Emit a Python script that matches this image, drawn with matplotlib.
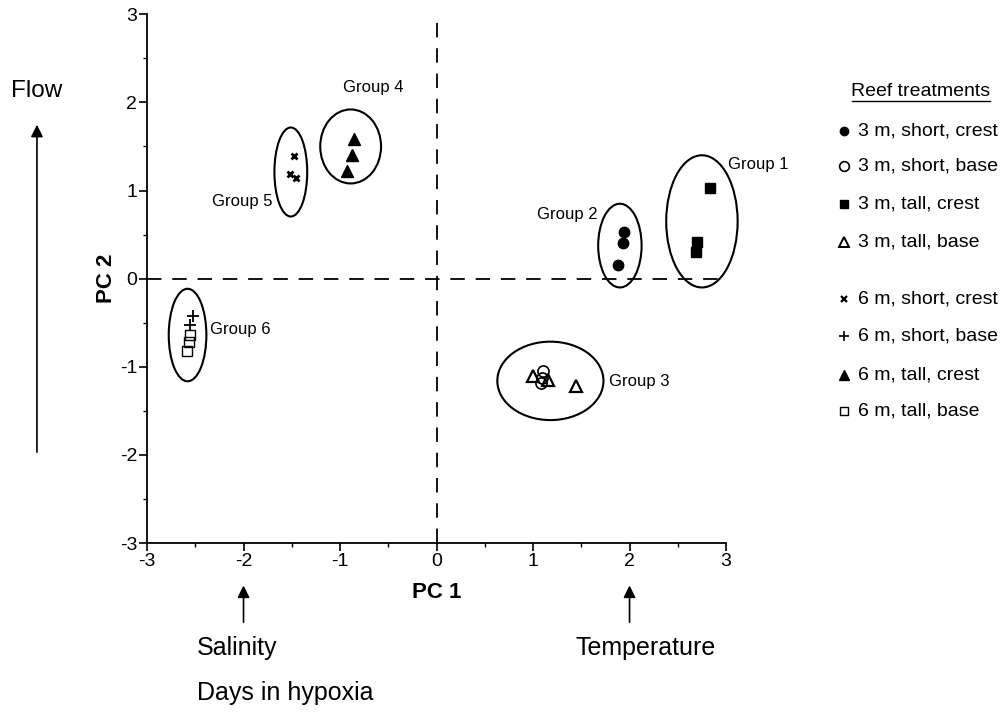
import numpy as np
import matplotlib.pyplot as plt
from matplotlib.patches import Ellipse

plt.rcParams['font.family'] = ['Liberation Sans', 'DejaVu Sans']
plt.rcParams['axes.unicode_minus'] = False

# PCA scores per reef treatment
x_3m_short_crest = [1.94, 1.93, 1.88]
y_3m_short_crest = [0.53, 0.41, 0.16]
x_3m_short_base = [1.10, 1.09, 1.08]
y_3m_short_base = [-1.05, -1.13, -1.18]
x_3m_tall_crest = [2.83, 2.70, 2.69]
y_3m_tall_crest = [1.03, 0.42, 0.30]
x_3m_tall_base = [1.00, 1.16, 1.44]
y_3m_tall_base = [-1.11, -1.15, -1.22]
x_6m_short_crest = [-1.48, -1.52, -1.46]
y_6m_short_crest = [1.39, 1.19, 1.14]
x_6m_short_base = [-2.52, -2.55]
y_6m_short_base = [-0.42, -0.53]
x_6m_tall_crest = [-0.86, -0.88, -0.93]
y_6m_tall_crest = [1.59, 1.40, 1.22]
x_6m_tall_base = [-2.55, -2.56, -2.59]
y_6m_tall_base = [-0.64, -0.72, -0.82]

# group ellipses: centre x, centre y, width, height
groups = ['Group 1', 'Group 2', 'Group 3', 'Group 4', 'Group 5', 'Group 6']
ell_cx = [2.75, 1.90, 1.18, -0.89, -1.51, -2.58]
ell_cy = [0.65, 0.375, -1.16, 1.50, 1.21, -0.64]
ell_w = [0.74, 0.45, 1.10, 0.63, 0.34, 0.39]
ell_h = [1.50, 0.95, 0.89, 0.84, 1.01, 1.05]
lab_x = [3.33, 1.36, 2.10, -0.66, -2.01, -2.03]
lab_y = [1.29, 0.73, -1.17, 2.17, 0.875, -0.58]

fig = plt.figure(figsize=(10.07, 7.13), dpi=100)
ax = fig.add_axes([0.146, 0.2384, 0.575, 0.7416])

ax.axhline(0, color='black', lw=1.3, dashes=(8, 6))
ax.axvline(0, color='black', lw=1.3, dashes=(8, 6))

for cx, cy, w, h in zip(ell_cx, ell_cy, ell_w, ell_h):
    ax.add_patch(Ellipse((cx, cy), w, h, fill=False, edgecolor='black', lw=1.5, clip_on=False))
for g, lx, ly in zip(groups, lab_x, lab_y):
    ax.text(lx, ly, g, fontsize=12, ha='center', va='center', clip_on=False)

k = dict(color='black', linestyle='none', clip_on=False)
ax.plot(x_3m_short_crest, y_3m_short_crest, marker='o', ms=7.5, **k)
ax.plot(x_3m_short_base, y_3m_short_base, marker='o', ms=8, mfc='none', mew=1.2, **k)
ax.plot(x_3m_tall_crest, y_3m_tall_crest, marker='s', ms=7, **k)
ax.plot(x_3m_tall_base, y_3m_tall_base, marker='^', ms=8.5, mfc='none', mew=1.6, **k)
ax.plot(x_6m_short_crest, y_6m_short_crest, marker='x', ms=5, mew=2, **k)
ax.plot(x_6m_short_base, y_6m_short_base, marker='+', ms=8, mew=1.3, **k)
ax.plot(x_6m_tall_crest, y_6m_tall_crest, marker='^', ms=8.5, **k)
ax.plot(x_6m_tall_base, y_6m_tall_base, marker='s', ms=7, mfc='none', mew=1.0, **k)

ax.set_xlim(-3, 3)
ax.set_ylim(-3, 3)
ax.set_xticks(np.arange(-3, 4, 1))
ax.set_yticks(np.arange(-3, 4, 1))
ax.set_xticks(np.arange(-2.5, 3, 1), minor=True)
ax.set_yticks(np.arange(-2.5, 3, 1), minor=True)
ax.tick_params(which='major', direction='out', length=6, width=1.2, labelsize=14, pad=1)
ax.tick_params(which='minor', direction='out', length=3, width=1)
ax.spines['top'].set_visible(False)
ax.spines['right'].set_visible(False)
ax.spines['left'].set_linewidth(1.3)
ax.spines['bottom'].set_linewidth(1.3)

ax.set_xlabel('PC 1', fontsize=16, fontweight='bold', labelpad=9)
ax.set_ylabel('PC 2', fontsize=16, fontweight='bold', labelpad=2)

# environmental gradients
fig.text(0.0367, 0.872, 'Flow', fontsize=17.5, ha='center', va='center')
ax.annotate('', xy=(0.0367, 0.829), xytext=(0.0367, 0.362),
            xycoords='figure fraction', textcoords='figure fraction',
            arrowprops=dict(arrowstyle='-|>', color='black', lw=1.2, mutation_scale=18))
xt = ax.get_xaxis_transform()
for xv in [-2, 2]:
    ax.annotate('', xy=(xv, -0.075), xytext=(xv, -0.155), xycoords=xt, textcoords=xt,
                arrowprops=dict(arrowstyle='-|>', color='black', lw=1.2, mutation_scale=18))
fig.text(197 / 1007, 1 - 648 / 713, 'Salinity', fontsize=18, va='center')
fig.text(576 / 1007, 1 - 648 / 713, 'Temperature', fontsize=18, va='center')
fig.text(197 / 1007, 1 - 693 / 713, 'Days in hypoxia', fontsize=18, va='center')

# legend
fig.text(921 / 1007, 1 - 91 / 713, 'Reef treatments', fontsize=14, ha='center', va='center')
fig.add_artist(plt.Line2D([852 / 1007, 990 / 1007], [1 - 101 / 713, 1 - 101 / 713], color='black', lw=1))
leg_labels = ['3 m, short, crest', '3 m, short, base', '3 m, tall, crest', '3 m, tall, base',
              '6 m, short, crest', '6 m, short, base', '6 m, tall, crest', '6 m, tall, base']
leg_y = [131, 166, 204, 242, 299, 336, 375, 411]
leg_style = [dict(marker='o', ms=6), dict(marker='o', ms=7, mfc='none', mew=1.2),
             dict(marker='s', ms=6), dict(marker='^', ms=7, mfc='none', mew=1.4),
             dict(marker='x', ms=4, mew=1.6), dict(marker='+', ms=7, mew=1.2),
             dict(marker='^', ms=6.5), dict(marker='s', ms=6, mfc='none', mew=1)]
for lab, yp, st in zip(leg_labels, leg_y, leg_style):
    fig.add_artist(plt.Line2D([844 / 1007], [1 - yp / 713], color='black', linestyle='none', **st))
    fig.text(858 / 1007, 1 - yp / 713, lab, fontsize=14, va='center')

fig.savefig('out.png', dpi=100)
